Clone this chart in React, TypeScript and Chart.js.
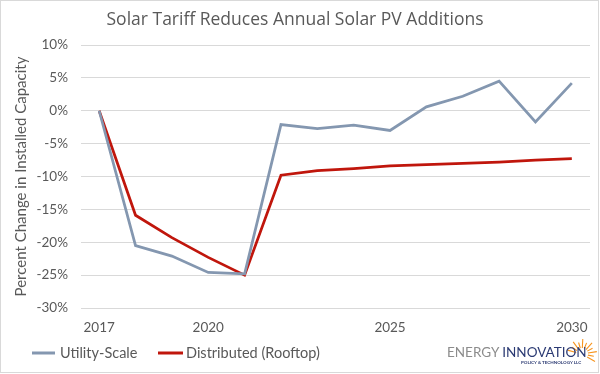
import React, { useEffect, useRef } from "react";
import { Chart, registerables } from "chart.js";

Chart.register(...registerables);

const years = ["2017","2018","2019","2020","2021","2022","2023","2024","2025","2026","2027","2028","2029","2030"];
const shownYears = ["2017", "2020", "2025", "2030"];
const utilityScale = [0, -20.5, -22.1, -24.6, -24.8, -2.1, -2.7, -2.2, -3.0, 0.6, 2.2, 4.5, -1.7, 4.2];
const distributed = [0, -15.9, -19.3, -22.3, -25.0, -9.8, -9.1, -8.8, -8.4, -8.2, -8.0, -7.8, -7.5, -7.3];
const seriesNames = ["Utility-Scale", "Distributed (Rooftop)"];
const seriesColors = ["#8497B0", "#C0160C"];
const titleText = "Solar Tariff Reduces Annual Solar PV Additions";
const yTitle = "Percent Change in Installed Capacity";

const FONT = "Lato, 'Open Sans', sans-serif";
const FONT2 = "'Open Sans', Lato, sans-serif";
const TEXT = "#595959";

const legendPlugin = {
  id: "customLegend",
  afterDraw(chart: any) {
    const ctx = chart.ctx;
    ctx.save();
    const y = 353;
    const items = [
      { x0: 32, x1: 55, tx: 60 },
      { x0: 158, x1: 183, tx: 186 },
    ];
    items.forEach((it, i) => {
      ctx.strokeStyle = seriesColors[i];
      ctx.lineWidth = 3;
      ctx.beginPath();
      ctx.moveTo(it.x0, y);
      ctx.lineTo(it.x1, y);
      ctx.stroke();
      ctx.fillStyle = TEXT;
      ctx.font = `14.5px ${FONT}`;
      ctx.textBaseline = "middle";
      ctx.textAlign = "left";
      ctx.fillText(seriesNames[i], it.tx, y);
    });
    ctx.restore();
  },
};

function Logo() {
  const rays = [];
  const cx = 582, cy = 354;
  const n = 11;
  for (let i = 0; i < n; i++) {
    const a = (-165 + (i * 195) / (n - 1)) * Math.PI / 180;
    const r0 = 6;
    const r1 = i % 2 === 0 ? 15 : 12;
    rays.push(
      <line key={i} x1={cx + r0 * Math.cos(a)} y1={cy + r0 * Math.sin(a)} x2={cx + r1 * Math.cos(a)} y2={cy + r1 * Math.sin(a)} stroke="#F7941D" strokeWidth={1.1} />
    );
  }
  return (
    <>
      <svg width={600} height={374} style={{ position: "absolute", left: 0, top: 0, pointerEvents: "none" }}>
        {rays}
      </svg>
      <div style={{ position: "absolute", left: 447, top: 344, fontFamily: FONT, fontSize: 13.5, lineHeight: "16px", whiteSpace: "nowrap", letterSpacing: 0 }}>
        <span style={{ color: "#8C8C8C" }}>ENERGY </span>
        <span style={{ color: "#2B3A73" }}>INNOVATION</span>
      </div>
      <div style={{ position: "absolute", left: 521, top: 360, fontFamily: FONT, fontSize: 4.5, fontWeight: 700, color: "#2B3A73", whiteSpace: "nowrap" }}>
        POLICY &amp; TECHNOLOGY LLC
      </div>
    </>
  );
}

export default function App() {
  const ref = useRef<HTMLCanvasElement>(null);
  useEffect(() => {
    if (!ref.current) return;
    const chart = new Chart(ref.current, {
      type: "line",
      data: {
        labels: years,
        datasets: [
          { label: seriesNames[0], data: utilityScale, borderColor: seriesColors[0], borderWidth: 2.75, pointRadius: 0, tension: 0, fill: false },
          { label: seriesNames[1], data: distributed, borderColor: seriesColors[1], borderWidth: 2.75, pointRadius: 0, tension: 0, fill: false },
        ],
      },
      options: {
        responsive: false,
        animation: false,
        layout: { padding: { left: 0, right: 10, top: 0, bottom: 39 } },
        plugins: {
          legend: { display: false },
          tooltip: { enabled: false },
          title: {
            display: true,
            text: titleText,
            color: TEXT,
            font: { family: FONT2, size: 17.5, weight: "normal" },
            padding: { top: 10, bottom: 14 },
          },
        },
        scales: {
          x: {
            offset: true,
            grid: { display: false, drawTicks: false },
            border: { display: false },
            ticks: {
              autoSkip: false,
              maxRotation: 0,
              padding: 12,
              color: TEXT,
              font: { family: FONT, size: 13.5 },
              callback: function (this: any, v: any, i: number) {
                const l = years[i];
                return shownYears.includes(l) ? l : "";
              },
            },
            afterFit: (s: any) => { s.height = 27; },
          },
          y: {
            min: -30,
            max: 10,
            grid: { color: "#D9D9D9", lineWidth: 1, drawTicks: false },
            border: { display: false },
            ticks: {
              stepSize: 5,
              padding: 13,
              color: TEXT,
              font: { family: FONT, size: 13.5 },
              callback: (v: any) => `${v}%`,
            },
            title: {
              display: true,
              text: yTitle,
              color: TEXT,
              font: { family: FONT, size: 15 },
              padding: { top: 12, bottom: 0 },
            },
            afterFit: (s: any) => { s.width = 81; },
          },
        },
      },
      plugins: [legendPlugin],
    });
    return () => chart.destroy();
  }, []);
  return (
    <div style={{ position: "fixed", left: 0, top: 0, width: 600, height: 374, background: "#fff" }}>
      <canvas ref={ref} width={600} height={374} style={{ position: "absolute", left: 0, top: 0 }} />
      <div style={{ position: "absolute", left: 0, top: 0, width: 599, height: 373, boxSizing: "border-box", border: "1px solid #D9D9D9", pointerEvents: "none" }} />
      <Logo />
    </div>
  );
}
